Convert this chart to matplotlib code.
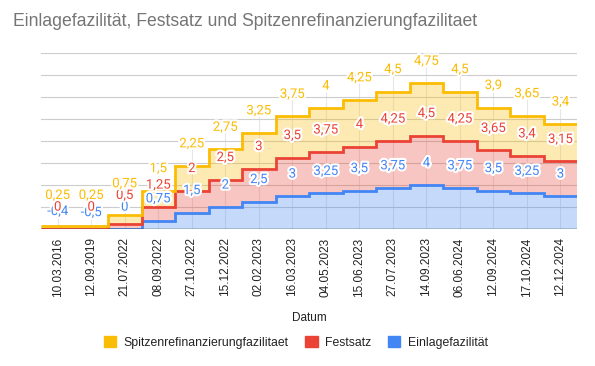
import numpy as np
import matplotlib
matplotlib.use("Agg")
import matplotlib.pyplot as plt
import matplotlib.patheffects as pe
from matplotlib.patches import Patch

datum = ["10.03.2016", "12.09.2019", "21.07.2022", "08.09.2022", "27.10.2022",
         "15.12.2022", "02.02.2023", "16.03.2023", "04.05.2023", "15.06.2023",
         "27.07.2023", "14.09.2023", "06.06.2024", "12.09.2024", "17.10.2024",
         "12.12.2024"]
einlage = [-0.4, -0.5, 0, 0.75, 1.5, 2, 2.5, 3, 3.25, 3.5, 3.75, 4, 3.75, 3.5, 3.25, 3]
festsatz = [0, 0, 0.5, 1.25, 2, 2.5, 3, 3.5, 3.75, 4, 4.25, 4.5, 4.25, 3.65, 3.4, 3.15]
spitzen = [0.25, 0.25, 0.75, 1.5, 2.25, 2.75, 3.25, 3.75, 4, 4.25, 4.5, 4.75, 4.5, 3.9, 3.65, 3.4]

c_blue, c_red, c_yel = "#4285F4", "#EA4335", "#FBBC04"
plt.rcParams['font.family'] = ['Liberation Sans', 'DejaVu Sans']

b = np.array(einlage, dtype=float)
r = np.array(festsatz, dtype=float)
s = np.array(spitzen, dtype=float)
# google stacks negatives separately
base_r = np.maximum(b, 0)
top_r = base_r + r
top_s = top_r + s

n = len(datum)
x = np.arange(n)
edges = np.arange(n + 1) - 0.5

fig = plt.figure(figsize=(5.95, 3.66), dpi=100)
ax = fig.add_axes([0.0689, 0.374, 0.9012, 0.481])

# label positions (offset above the step + simple collision push)
off, gap = 2.0, 1.06
lab_b = b + off
lab_r = top_r + off
lab_r = np.where(b < 0, lab_r, np.maximum(lab_r, lab_b + gap))
lab_s = np.maximum(top_s + off, lab_r + gap)

ax.vlines(x, 0, lab_s - 0.5, color="#e6e6e6", lw=0.8, zorder=0)

ax.stairs(b, edges, baseline=0, fill=True, color=c_blue, alpha=0.3, lw=0, zorder=1)
ax.stairs(top_r, edges, baseline=base_r, fill=True, color=c_red, alpha=0.3, lw=0, zorder=1)
ax.stairs(top_s, edges, baseline=top_r, fill=True, color=c_yel, alpha=0.3, lw=0, zorder=1)
ax.stairs(b, edges, baseline=None, color=c_blue, lw=2, zorder=3)
ax.stairs(top_r, edges, baseline=None, color=c_red, lw=2, zorder=3)
ax.stairs(top_s, edges, baseline=None, color=c_yel, lw=2, zorder=3)

def fmt(v):
    return f"{v:g}".replace(".", ",")

halo = [pe.withStroke(linewidth=3, foreground="white")]
for vals, ys, col in [(einlage, lab_b, c_blue), (festsatz, lab_r, c_red), (spitzen, lab_s, c_yel)]:
    for i in range(n):
        ax.text(x[i], ys[i], fmt(vals[i]), ha="center", va="center", fontsize=9.5,
                color=col, family="Roboto", path_effects=halo, zorder=5)

ax.set_xlim(-0.5, n - 0.5)
ax.set_ylim(0, 16)
ax.set_yticks(np.arange(0, 17, 2))
ax.grid(axis="y", color="#cccccc", lw=0.8)
ax.set_axisbelow(True)
ax.axhline(0, color="#333333", lw=1, zorder=4)
ax.tick_params(axis="y", length=0, labelleft=False)
ax.set_xticks(x)
ax.set_xticklabels(datum, rotation=90, fontsize=8.5, color="#222222")
ax.tick_params(axis="x", length=0, pad=6)
for sp in ax.spines.values():
    sp.set_visible(False)

fig.text(13 / 595, 1 - 22 / 366, "Einlagefazilität, Festsatz und Spitzenrefinanzierungfazilitaet",
         ha="left", va="center", fontsize=12.7, color="#757575")
fig.text(309 / 595, 1 - 318 / 366, "Datum", ha="center", va="center", fontsize=8.5, color="#222222")

handles = [Patch(color=c_yel, label="Spitzenrefinanzierungfazilitaet"),
           Patch(color=c_red, label="Festsatz"),
           Patch(color=c_blue, label="Einlagefazilität")]
fig.legend(handles=handles, loc="center", bbox_to_anchor=(0.497, 0.064), ncol=3, frameon=False,
           handlelength=1.0, handleheight=1.0, handletextpad=0.6, columnspacing=1.4,
           fontsize=8.8, labelcolor="#222222")

fig.savefig("out.png", dpi=100)
